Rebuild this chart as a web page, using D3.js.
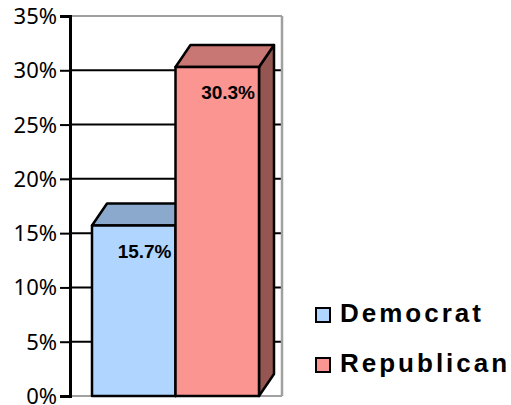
<!DOCTYPE html>
<html><head><meta charset="utf-8">
<script src="https://cdn.jsdelivr.net/npm/d3@7"></script>
<style>body{margin:0;background:#fff}svg{display:block}</style>
</head><body><svg id="c" width="511" height="405"></svg>
<script>
const categories = ["Democrat", "Republican"];
const values = [0.157, 0.303];
const valueLabels = ["15.7%", "30.3%"];
const tickValues = [0, 0.05, 0.10, 0.15, 0.20, 0.25, 0.30, 0.35];
const tickLabels = ["0%", "5%", "10%", "15%", "20%", "25%", "30%", "35%"];

const colors = {
  Democrat: {front: "#b0d5ff", top: "#8aa9cc", side: "#6f88a8"},
  Republican: {front: "#fa9591", top: "#c87774", side: "#955551"}
};

const svg = d3.select("#c");
const y = d3.scaleLinear().domain([0, 0.35]).range([396, 16]);
const x = d3.scaleBand().domain(categories).range([92, 259]).padding(0);
const wallL = 70, wallR = 282;
const dx = 15, dy = -22;

// grid lines
svg.selectAll("line.grid").data(tickValues).enter().append("line")
  .attr("x1", wallL).attr("x2", wallR)
  .attr("y1", d => y(d)).attr("y2", d => y(d))
  .attr("stroke", (d,i) => (i === 0 || i === tickValues.length - 1) ? "#a0a0a0" : "#000")
  .attr("stroke-width", 2);
// right wall
svg.append("line").attr("x1", wallR).attr("x2", wallR).attr("y1", y(0.35)).attr("y2", y(0))
  .attr("stroke", "#a0a0a0").attr("stroke-width", 2.5);

// axis
const axis = d3.axisLeft(y).tickValues(tickValues).tickFormat((d,i) => tickLabels[i]).tickSize(10).tickPadding(3);
const g = svg.append("g").attr("transform", `translate(${wallL},0)`).call(axis);
g.attr("font-family", "Noto Sans").attr("font-size", 22);
g.select(".domain").attr("stroke", "#000").attr("stroke-width", 3);
g.selectAll(".tick line").attr("stroke", "#000").attr("stroke-width", 2);
g.selectAll(".tick text").attr("fill", "#000").attr("dy", "0.34em");

// bars
categories.forEach((c, i) => {
  const x0 = x(c), x1 = x(c) + x.bandwidth();
  const yt = y(values[i]), yb = y(0);
  const col = colors[c];
  const bg = svg.append("g").attr("stroke", "#000").attr("stroke-width", 2.5).attr("stroke-linejoin", "round");
  bg.append("path").attr("fill", col.side)
    .attr("d", `M${x1},${yt}L${x1+dx},${yt+dy}L${x1+dx},${yb+dy}L${x1},${yb}Z`);
  bg.append("path").attr("fill", col.top)
    .attr("d", `M${x0},${yt}L${x0+dx},${yt+dy}L${x1+dx},${yt+dy}L${x1},${yt}Z`);
  bg.append("rect").attr("x", x0).attr("y", yt).attr("width", x1 - x0).attr("height", yb - yt)
    .attr("fill", col.front);
});
// value labels
categories.forEach((c, i) => {
  svg.append("text")
    .attr("x", x(c) + x.bandwidth() - 4)
    .attr("y", y(values[i]) + 32)
    .attr("text-anchor", "end")
    .attr("font-family", "Liberation Sans")
    .attr("font-weight", "bold").attr("font-size", 19)
    .text(valueLabels[i]);
});

// legend
const lg = svg.append("g");
categories.forEach((c, i) => {
  const ly = 308 + i * 50;
  lg.append("rect").attr("x", 316).attr("y", ly).attr("width", 14).attr("height", 14)
    .attr("fill", colors[c].front).attr("stroke", "#000").attr("stroke-width", 2);
  lg.append("text").attr("x", 340).attr("y", ly + 14)
    .attr("font-family", "Liberation Sans")
    .attr("font-weight", "bold").attr("font-size", 26).attr("letter-spacing", 3)
    .text(c);
});
</script></body></html>
